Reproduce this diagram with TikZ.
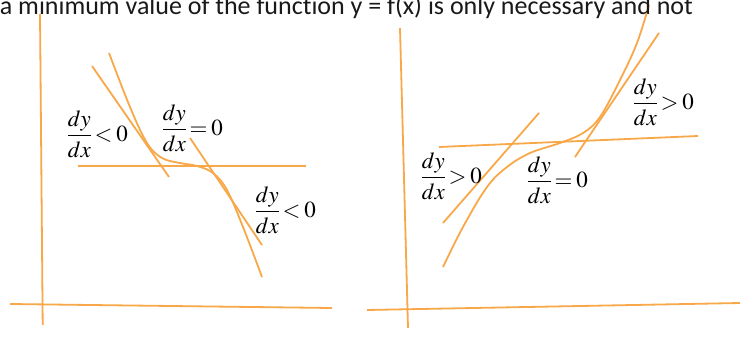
\documentclass[tikz,border=0pt]{standalone}
\usepackage{mathptmx}
\usepackage[no-math]{fontspec}
\newfontfamily\bodyfont[Ligatures=NoCommon]{Carlito}
\definecolor{curveorange}{RGB}{248,168,72}
\thickmuskip=3mu
\nulldelimiterspace=0pt
\begin{document}
\begin{tikzpicture}[x=0.5pt,y=-0.5pt,line width=0.9pt,
        graph/.style={draw=curveorange},
        slope/.style={anchor=west,inner sep=0pt,font=\fontsize{11.5}{14}\selectfont}]
    \useasboundingbox (0,0) rectangle (745,337);
    \draw[graph] (40,14) -- (42.7,325);
    \draw[graph] (10,304) -- (332,308);
    \draw[graph] (78,166) -- (306,166);
    \draw[graph] (92,66) -- (169,177);
    \draw[graph] (190,138) -- (262,245);
    \draw[graph] plot[smooth,tension=0.6] coordinates {(109,53) (130,107) (147,143) (162,158) (180,163) (197,166) (213,173) (227,190) (243,227) (262,277)};
    \node[slope] (fallleft) at (67,134) {$\displaystyle\frac{dy}{dx}<0$};
    \node[slope] (flatleft) at (162,128) {$\displaystyle\frac{dy}{dx}=0$};
    \node[slope] (fallright) at (255,210) {$\displaystyle\frac{dy}{dx}<0$};
    \draw[graph] (400,28) -- (408,328);
    \draw[graph] (367,310) -- (740,303);
    \draw[graph] (439,147) -- (698,136);
    \draw[graph] (443,223) -- (539,113);
    \draw[graph] (575,157) -- (659,33);
    \draw[graph] plot[smooth,tension=0.6] coordinates {(443,267) (463,227) (487,187) (507,167) (530,153) (560,143) (583,133) (600,117) (620,80) (637,43) (649,5)};
    \node[slope] (riseleft) at (421,176) {$\displaystyle\frac{dy}{dx}>0$};
    \node[slope] (flatright) at (527,180) {$\displaystyle\frac{dy}{dx}=0$};
    \node[slope] (riseright) at (633,102) {$\displaystyle\frac{dy}{dx}>0$};
    \node[anchor=base west,inner sep=0pt,text=black!90,font=\bodyfont\fontsize{13}{15}\selectfont] (caption) at (-1,15) {a minimum value of the function y = f(x) is only necessary and not};
\end{tikzpicture}
\end{document}
